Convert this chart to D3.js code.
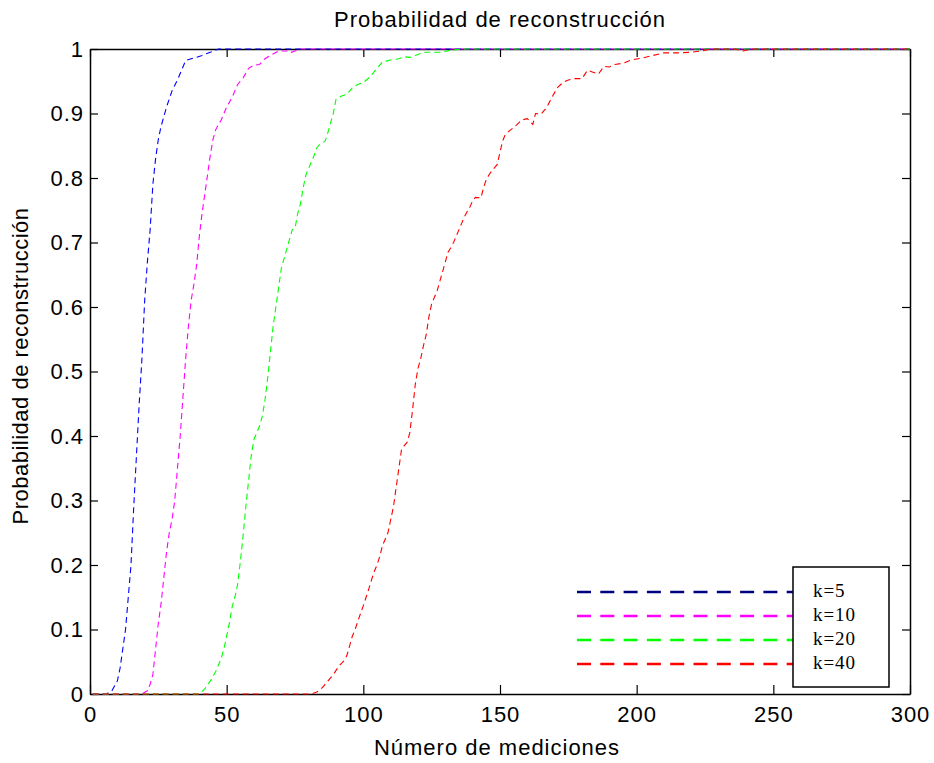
<!DOCTYPE html>
<html>
<head>
<meta charset="utf-8">
<script src="https://cdn.jsdelivr.net/npm/d3@7"></script>
<style>
  html, body { margin: 0; padding: 0; background: #ffffff; }
  svg { display: block; }
</style>
</head>
<body>
<svg id="chart" width="934" height="763"></svg>
<script>
// Reconstruction probability vs. number of measurements, one curve per sparsity level k.
const xTicks = [0, 50, 100, 150, 200, 250, 300];
const yTicks = [0, 0.1, 0.2, 0.3, 0.4, 0.5, 0.6, 0.7, 0.8, 0.9, 1];
const seriesNames = ["k=5", "k=10", "k=20", "k=40"];

const k5 = [[1,0],[6,0],[8,0.005],[10,0.02],[11,0.04],[12,0.07],[13,0.10],[14,0.15],[15,0.2],
  [16,0.29],[17,0.37],[18,0.45],[19,0.52],[20,0.61],[21,0.67],[22,0.72],[23,0.79],[24,0.83],
  [25,0.86],[26,0.88],[28,0.91],[30,0.935],[32,0.952],[34,0.972],[35,0.982],[37,0.985],
  [39,0.987],[41,0.99],[44,0.995],[47,1],[300,1]];

const k10 = [[1,0],[19,0],[21,0.005],[22,0.015],[23,0.03],[24,0.07],[25,0.11],[26,0.14],[27,0.18],
  [28,0.22],[29,0.25],[30,0.27],[31,0.3],[32,0.35],[33,0.4],[34,0.46],[35,0.52],[36,0.57],
  [37,0.61],[38,0.635],[39,0.665],[40,0.71],[41,0.745],[42,0.775],[43,0.805],[44,0.835],
  [45,0.86],[46,0.875],[48,0.89],[50,0.91],[52,0.925],[54,0.945],[56,0.955],[58,0.97],
  [60,0.975],[62,0.976],[64,0.985],[66,0.99],[69,0.997],[72,0.997],[73,0.994],[75,0.997],
  [77,1],[300,1]];

const k20 = [[1,0],[40,0],[42,0.008],[44,0.02],[46,0.035],[48,0.055],[49,0.07],[50,0.09],[51,0.11],
  [52,0.135],[53,0.15],[54,0.17],[55,0.205],[56,0.245],[57,0.29],[58,0.33],[59,0.37],[60,0.395],
  [61,0.405],[62,0.415],[63,0.43],[64,0.455],[65,0.49],[66,0.53],[67,0.57],[68,0.6],[69,0.63],
  [70,0.66],[71,0.675],[72,0.69],[73,0.705],[74,0.72],[75,0.722],[76,0.745],[77,0.76],
  [78,0.785],[79,0.805],[80,0.815],[81,0.825],[82,0.835],[83,0.847],[84,0.852],[86,0.857],
  [87,0.87],[88,0.885],[89,0.9],[90,0.922],[92,0.927],[94,0.93],[96,0.94],[98,0.945],
  [100,0.948],[102,0.955],[104,0.965],[106,0.975],[107,0.98],[110,0.983],[113,0.985],
  [115,0.988],[117,0.987],[119,0.99],[122,0.995],[128,0.995],[132,0.998],[136,1],[300,1]];

const k40 = [[1,0],[81,0],[83,0.003],[85,0.01],[87,0.02],[89,0.03],[91,0.043],[93,0.052],[94,0.06],
  [95,0.075],[96,0.09],[97,0.1],[98,0.113],[99,0.125],[100,0.137],[101,0.15],[102,0.163],
  [103,0.177],[104,0.19],[105,0.2],[106,0.213],[107,0.23],[108,0.24],[109,0.25],[110,0.27],
  [111,0.29],[112,0.32],[113,0.35],[114,0.38],[115,0.385],[116,0.39],[117,0.405],[118,0.44],
  [119,0.48],[120,0.505],[121,0.52],[122,0.54],[123,0.557],[124,0.585],[125,0.605],[126,0.615],
  [127,0.625],[128,0.64],[129,0.655],[130,0.67],[131,0.685],[132,0.692],[133,0.70],[134,0.71],
  [135,0.72],[136,0.73],[137,0.74],[138,0.748],[139,0.755],[140,0.765],[141,0.77],[143,0.769],
  [144,0.785],[145,0.798],[146,0.805],[147,0.811],[149,0.821],[150,0.84],[151,0.858],
  [152,0.868],[154,0.875],[156,0.882],[158,0.89],[160,0.892],[162,0.883],[163,0.9],[165,0.899],
  [167,0.909],[169,0.925],[171,0.94],[173,0.948],[175,0.952],[177,0.954],[180,0.954],
  [182,0.967],[184,0.964],[186,0.961],[188,0.973],[190,0.972],[192,0.976],[195,0.978],
  [198,0.983],[202,0.986],[206,0.99],[210,0.994],[215,0.994],[220,0.995],[224,0.997],
  [227,1],[236,1],[239,0.997],[242,1],[300,1]];

const curveColors = ["#0000ff", "#ff00ff", "#00ff00", "#ff0000"];
const legendColors = ["#000080", "#ff00ff", "#00ff00", "#ff0000"];

const series = [k5, k10, k20, k40].map((pts, i) => ({
  name: seriesNames[i], points: pts, color: curveColors[i], legendColor: legendColors[i]
}));

const svg = d3.select("#chart");
const plotLeft = 90, plotRight = 910, plotTop = 49, plotBottom = 694;
const x = d3.scaleLinear().domain([0, 300]).range([plotLeft, plotRight]);
const y = d3.scaleLinear().domain([0, 1]).range([plotBottom, plotTop]);

const SANS = '"Liberation Sans", Arial, Helvetica, sans-serif';
const SERIF = '"Liberation Serif", "Times New Roman", Times, serif';
const FONT = 22, LS = "1px";

function sansText(sel, spacing) {
  return sel.style("font-family", SANS).style("font-size", FONT + "px")
    .style("letter-spacing", spacing || LS).style("fill", "#000");
}

// Axes: ticks point inward on all four sides, labels on bottom and left only
const gBottom = svg.append("g").attr("transform", `translate(0,${plotBottom})`)
  .call(d3.axisBottom(x).tickValues(xTicks).tickFormat(d3.format("d"))
    .tickSizeInner(-9).tickSizeOuter(0).tickPadding(12));
const gLeft = svg.append("g").attr("transform", `translate(${plotLeft},0)`)
  .call(d3.axisLeft(y).tickValues(yTicks).tickFormat(d => d === 0 ? "0" : d === 1 ? "1" : d3.format(".1f")(d))
    .tickSizeInner(-8).tickSizeOuter(0).tickPadding(6));
const gTop = svg.append("g").attr("transform", `translate(0,${plotTop})`)
  .call(d3.axisTop(x).tickValues(xTicks).tickFormat("").tickSizeInner(-8).tickSizeOuter(0));
const gRight = svg.append("g").attr("transform", `translate(${plotRight},0)`)
  .call(d3.axisRight(y).tickValues(yTicks).tickFormat("").tickSizeInner(-8).tickSizeOuter(0));

[gBottom, gLeft, gTop, gRight].forEach(g => {
  g.select(".domain").attr("stroke", "#000").attr("stroke-width", 1.5);
  g.selectAll(".tick line").attr("stroke", "#000").attr("stroke-width", 1.2);
  sansText(g.selectAll(".tick text"));
});
gLeft.selectAll(".tick text").attr("dy", "0.34em");

// Curves
const line = d3.line().x(d => x(d[0])).y(d => y(d[1]));
svg.append("g").selectAll("path.curve")
  .data(series)
  .join("path")
  .attr("class", "curve")
  .attr("d", d => line(d.points))
  .attr("fill", "none")
  .attr("stroke", d => d.color)
  .attr("stroke-width", 1.1)
  .attr("stroke-dasharray", "6,4");

// Title and axis labels
sansText(svg.append("text")
  .attr("x", 500).attr("y", 27)
  .attr("text-anchor", "middle")
  .text("Probabilidad de reconstrucción"));

sansText(svg.append("text")
  .attr("x", 497).attr("y", 755)
  .attr("text-anchor", "middle")
  .text("Número de mediciones"));

sansText(svg.append("text")
  .attr("transform", "translate(28,366) rotate(-90)")
  .attr("text-anchor", "middle")
  .text("Probabilidad de reconstrucción"), "0.5px");

// Legend: sample lines run up to the box, labels sit inside it
const legendY = d3.scalePoint().domain(seriesNames).range([592, 664]);
const legend = svg.append("g");
legend.selectAll("line")
  .data(series)
  .join("line")
  .attr("x1", 577).attr("x2", 793)
  .attr("y1", d => legendY(d.name)).attr("y2", d => legendY(d.name))
  .attr("stroke", d => d.legendColor)
  .attr("stroke-width", 2.6)
  .attr("stroke-dasharray", "14,9.3");
legend.append("rect")
  .attr("x", 793).attr("y", 567).attr("width", 96).attr("height", 120)
  .attr("fill", "#fff").attr("stroke", "#000").attr("stroke-width", 1.5);
legend.selectAll("text")
  .data(series)
  .join("text")
  .attr("x", 813)
  .attr("y", d => legendY(d.name) + 5)
  .style("font-family", SERIF)
  .style("font-size", "19px")
  .style("letter-spacing", "0.9px")
  .style("fill", "#000")
  .text(d => d.name);
</script>
</body>
</html>
